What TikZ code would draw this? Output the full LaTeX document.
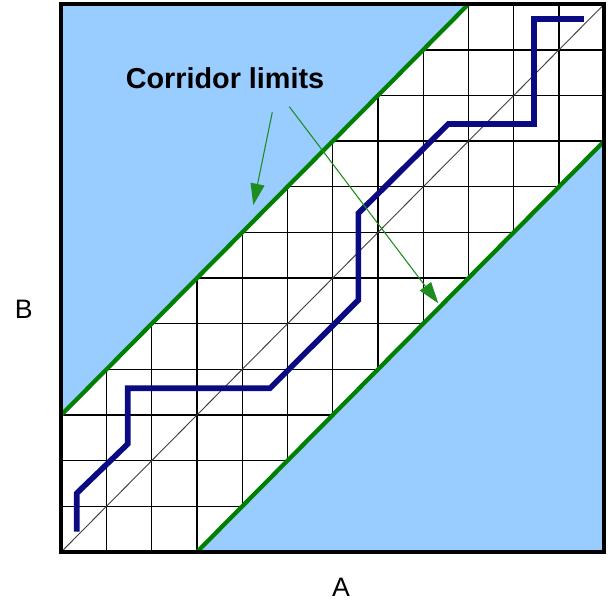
\documentclass[tikz,border=0pt]{standalone}
\usepackage{fontspec}
\setmainfont{Liberation Sans}
\usetikzlibrary{arrows.meta}
\definecolor{lblue}{HTML}{99CCFF}
\definecolor{navyp}{RGB}{10,10,130}
\definecolor{grn}{RGB}{0,128,0}
\definecolor{agrn}{RGB}{30,140,30}
\tikzset{
  gridline/.style={line width=1pt,black},
  limitline/.style={line width=3.2pt,grn},
  warp/.style={line width=4.2pt,navyp},
  frameline/.style={line width=3.4pt,black},
  diag/.style={line width=0.7pt,black!75},
  pointer/.style={line width=0.8pt,agrn,-{Triangle[length=16pt,width=10.5pt]}},
  lbl/.style={font=\fontsize{20}{24}\selectfont,inner sep=0pt}
}
\begin{document}
\begin{tikzpicture}[x=33.94pt,y=34.24pt]
\useasboundingbox (-1.3525,-1.183) rectangle (12.239,12.092);
% grid
\foreach \i in {1,...,11} {
  \draw[gridline] (\i,0) -- (\i,12);
  \draw[gridline] (0,\i) -- (12,\i);
}
% corridor outside regions
\fill[lblue] (0,3) -- (0,12) -- (9,12) -- cycle;
\fill[lblue] (3,0) -- (12,0) -- (12,9) -- cycle;
% main diagonal
\coordinate (o) at (0,0);
\coordinate (e) at (12,12);
\draw[diag] (o) -- (e);
% corridor limits
\coordinate (u1) at (0,3);
\coordinate (u2) at (9,12);
\coordinate (l1) at (3,0);
\coordinate (l2) at (12,9);
\draw[limitline] (u1) -- (u2);
\draw[limitline] (l1) -- (l2);
% warping path
\draw[warp] (0.343,0.445) -- (0.343,1.286) -- (1.470,2.366) -- (1.470,3.586)
  -- (4.614,3.586) -- (6.566,5.520) -- (6.566,7.419) -- (8.555,9.376)
  -- (10.449,9.376) -- (10.449,11.676) -- (11.553,11.676);
% frame
\draw[frameline] (0,0) rectangle (12,12);
% label and arrows
\node[lbl,font=\fontsize{21.6}{26}\selectfont\bfseries,anchor=base] (title) at (3.62,10.158) {Corridor limits};
\coordinate (a1s) at (4.665,9.632);
\coordinate (a1e) at (4.245,7.601);
\coordinate (a2s) at (5.041,9.755);
\coordinate (a2e) at (8.334,5.448);
\draw[pointer] (a1s) -- (a1e);
\draw[pointer] (a2s) -- (a2e);
\node[lbl] (B) at (-0.826,5.308) {B};
\node[lbl] (A) at (6.183,-0.778) {A};
\end{tikzpicture}
\end{document}
